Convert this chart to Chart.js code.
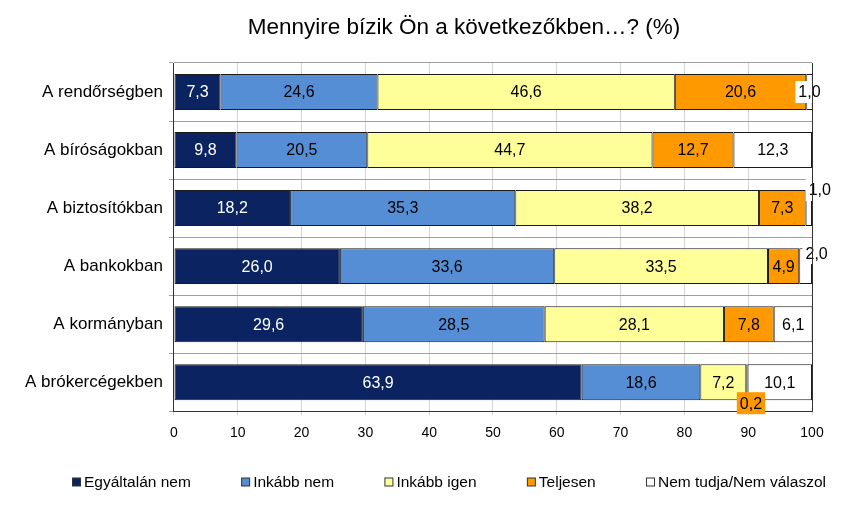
<!DOCTYPE html>
<html>
<head>
<meta charset="utf-8">
<script src="https://cdn.jsdelivr.net/npm/chart.js@4"></script>
<style>
  html, body { margin: 0; padding: 0; background: #fff; }
  #wrap { width: 864px; height: 515px; position: relative; }
</style>
</head>
<body>
<div id="wrap"><canvas id="c"></canvas></div>
<script>
const categories = ["A rendőrségben", "A bíróságokban", "A biztosítókban", "A bankokban", "A kormányban", "A brókercégekben"];
const seriesNames = ["Egyáltalán nem", "Inkább nem", "Inkább igen", "Teljesen", "Nem tudja/Nem válaszol"];
const egyaltalanNem = [7.3, 9.8, 18.2, 26.0, 29.6, 63.9];
const inkabbNem = [24.6, 20.5, 35.3, 33.6, 28.5, 18.6];
const inkabbIgen = [46.6, 44.7, 38.2, 33.5, 28.1, 7.2];
const teljesen = [20.6, 12.7, 7.3, 4.9, 7.8, 0.2];
const nemTudja = [1.0, 12.3, 1.0, 2.0, 6.1, 10.1];
const xTicks = [0, 10, 20, 30, 40, 50, 60, 70, 80, 90, 100];

const FONT = "'Liberation Sans', Arial, sans-serif";
const colors = ["#0b2461", "#558ed5", "#ffff99", "#ff9900", "#ffffff"];
const labelColors = ["#ffffff", "#000000", "#000000", "#000000", "#000000"];

// small segments whose labels sit off the bar (dataset, index) -> offset + box colour
const labelOffsets = {
  "4-0": { dx: 0, dy: 0, bg: "#ffffff" },
  "4-2": { dx: 11, dy: -18, bg: "#ffffff" },
  "4-3": { dx: 11, dy: -13, bg: "#ffffff" },
  "3-5": { dx: 4, dy: 21, bg: "#ff9900" },
};

const fmt = (v) => v.toFixed(1).replace(".", ",");

const barLabels = {
  id: "barLabels",
  afterDatasetsDraw(chart) {
    const ctx = chart.ctx;
    ctx.save();
    ctx.font = "16px " + FONT;
    ctx.textAlign = "center";
    ctx.textBaseline = "middle";
    chart.data.datasets.forEach((ds, di) => {
      const meta = chart.getDatasetMeta(di);
      meta.data.forEach((bar, i) => {
        const v = ds.data[i];
        const cx = (bar.x + bar.base) / 2;
        const off = labelOffsets[di + "-" + i];
        let x = cx, y = bar.y;
        if (off) {
          x += off.dx; y += off.dy;
          const w = ctx.measureText(fmt(v)).width + 6;
          ctx.fillStyle = off.bg;
          ctx.fillRect(x - w / 2, y - 11, w, 22);
        }
        ctx.fillStyle = labelColors[di];
        ctx.fillText(fmt(v), x, y + 1);
      });
    });
    ctx.restore();
  },
};

// title, right frame edge and a one-row legend spread like the original
const frameTitleLegend = {
  id: "frameTitleLegend",
  afterDraw(chart) {
    const ctx = chart.ctx;
    const a = chart.chartArea;
    ctx.save();
    ctx.strokeStyle = "#333";
    ctx.lineWidth = 1;
    ctx.beginPath();
    ctx.moveTo(Math.round(a.right) + 0.5, a.top);
    ctx.lineTo(Math.round(a.right) + 0.5, a.bottom);
    ctx.stroke();

    ctx.fillStyle = "#000";
    ctx.font = "22.5px " + FONT;
    ctx.textAlign = "center";
    ctx.textBaseline = "middle";
    ctx.fillText("Mennyire bízik Ön a következőkben…? (%)", 464, 28);

    // legend
    ctx.font = "15.5px " + FONT;
    ctx.textAlign = "left";
    const box = 9, gapText = 3, x0 = 72, x1 = 826, y = 482;
    const widths = seriesNames.map((t) => box + gapText + ctx.measureText(t).width);
    const total = widths.reduce((s, w) => s + w, 0);
    const gap = (x1 - x0 - total) / (seriesNames.length - 1);
    let x = x0;
    seriesNames.forEach((t, i) => {
      ctx.fillStyle = colors[i];
      ctx.fillRect(x + 0.5, y - box / 2 + 0.5, box - 1, box - 1);
      ctx.strokeStyle = "#333";
      ctx.strokeRect(x + 0.5, y - box / 2 + 0.5, box - 1, box - 1);
      ctx.fillStyle = "#000";
      ctx.fillText(t, x + box + gapText, y + 1);
      x += widths[i] + gap;
    });
    ctx.restore();
  },
};

const seriesData = [egyaltalanNem, inkabbNem, inkabbIgen, teljesen, nemTudja];

new Chart(document.getElementById("c"), {
  type: "bar",
  data: {
    labels: categories,
    datasets: seriesData.map((d, k) => ({
      label: seriesNames[k],
      data: d,
      backgroundColor: colors[k],
      borderColor: "#1a1a1a",
      borderWidth: 1,
      borderSkipped: false,
      categoryPercentage: 1,
      barPercentage: 0.62,
    })),
  },
  options: {
    indexAxis: "y",
    animation: false,
    responsive: true,
    maintainAspectRatio: false,
    layout: { padding: { top: 63, right: 52, left: 19, bottom: 63 } },
    plugins: {
      title: { display: false },
      tooltip: { enabled: false },
      legend: { display: false },
    },
    scales: {
      x: {
        stacked: true,
        min: 0,
        max: 100,
        afterBuildTicks(axis) { axis.ticks = xTicks.map((v) => ({ value: v })); },
        ticks: { color: "#000", font: { family: FONT, size: 14 }, padding: 10 },
        grid: { color: "#d4d4d4", tickLength: 4 },
        border: { color: "#333" },
      },
      y: {
        stacked: true,
        ticks: { color: "#000", font: { family: FONT, size: 17 }, padding: 6 },
        grid: { offset: true, color: "#a0a0a0", tickLength: 5 },
        border: { color: "#333" },
      },
    },
  },
  plugins: [barLabels, frameTitleLegend],
});
</script>
</body>
</html>
